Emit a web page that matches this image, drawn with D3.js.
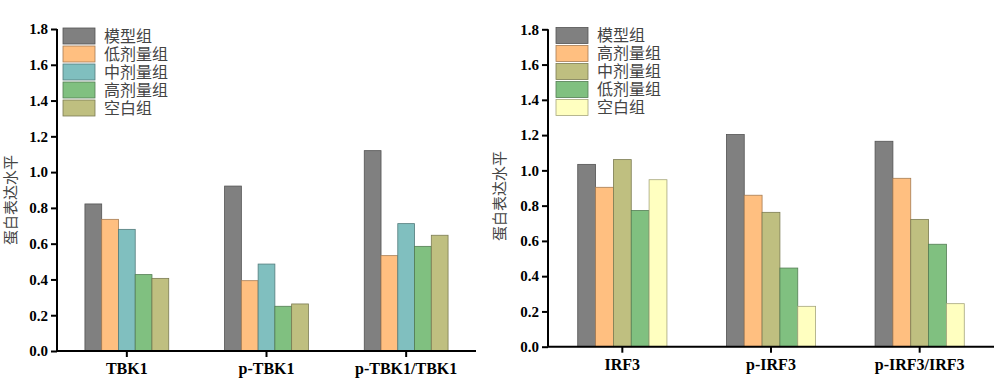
<!DOCTYPE html>
<html><head><meta charset="utf-8">
<script src="https://cdn.jsdelivr.net/npm/d3@7"></script>
<style>
html,body{margin:0;padding:0;background:#fff;}
svg{display:block;}
</style></head>
<body>
<svg id="chart" width="1004" height="380"></svg>
<script>
// ---- Data ----
const yTicks = [0.0, 0.2, 0.4, 0.6, 0.8, 1.0, 1.2, 1.4, 1.6, 1.8];
const yTitle = "蛋白表达水平";

const leftCategories = ["TBK1", "p-TBK1", "p-TBK1/TBK1"];
const leftSeries = ["模型组", "低剂量组", "中剂量组", "高剂量组", "空白组"];
const leftColors = ["#808080", "#FFBF80", "#80BFBF", "#80C080", "#BFBF80"];
const leftModel = [0.822, 0.922, 1.120];
const leftLow   = [0.736, 0.393, 0.533];
const leftMid   = [0.680, 0.486, 0.712];
const leftHigh  = [0.427, 0.250, 0.585];
const leftBlank = [0.406, 0.263, 0.647];

const rightCategories = ["IRF3", "p-IRF3", "p-IRF3/IRF3"];
const rightSeries = ["模型组", "高剂量组", "中剂量组", "低剂量组", "空白组"];
const rightColors = ["#808080", "#FFBF80", "#BFBF80", "#80C080", "#FFFFC0"];
const rightModel = [1.034, 1.203, 1.165];
const rightHigh  = [0.904, 0.859, 0.955];
const rightMid   = [1.061, 0.762, 0.722];
const rightLow   = [0.772, 0.446, 0.581];
const rightBlank = [0.947, 0.229, 0.244];

const charts = [
  {categories: leftCategories, series: leftSeries, colors: leftColors,
   values: [leftModel, leftLow, leftMid, leftHigh, leftBlank],
   x0: 57, x1: 476, yTop: 29, yBot: 351, titleX: 11, titleY: 200, legX: 63, legY: 28},
  {categories: rightCategories, series: rightSeries, colors: rightColors,
   values: [rightModel, rightHigh, rightMid, rightLow, rightBlank],
   x0: 548, x1: 994, yTop: 29.3, yBot: 346.7, titleX: 500, titleY: 196, legX: 556, legY: 27.5}
];

const svg = d3.select("#chart");
const serif = "'Liberation Serif','Times New Roman',serif";
const cjk = "'Noto Sans CJK SC','Noto Sans',sans-serif";

charts.forEach(c => {
  const g = svg.append("g");
  const y = d3.scaleLinear().domain([0, 1.8]).range([c.yBot, c.yTop]);
  const x = d3.scaleBand().domain(c.categories).range([c.x0, c.x1]).padding(0);
  const bw = x.bandwidth();
  const xs = d3.scaleBand().domain(c.series).range([bw * 0.2, bw * 0.8]).padding(0);

  // bars
  c.series.forEach((s, si) => {
    const col = d3.color(c.colors[si]);
    g.append("g").selectAll("rect")
      .data(c.categories.map((cat, ci) => ({cat, v: c.values[si][ci]})))
      .join("rect")
      .attr("x", d => x(d.cat) + xs(s))
      .attr("y", d => y(d.v))
      .attr("width", xs.bandwidth())
      .attr("height", d => c.yBot - y(d.v))
      .attr("fill", c.colors[si])
      .attr("stroke", col.darker(1.2))
      .attr("stroke-width", 0.8);
  });

  // y axis
  const ya = g.append("g").attr("transform", `translate(${c.x0},0)`)
    .call(d3.axisLeft(y).tickValues(yTicks).tickFormat(d3.format(".1f")).tickSize(6).tickPadding(3));
  ya.select(".domain").attr("stroke", "#000").attr("stroke-width", 2).attr("d", `M0,${c.yTop}V${c.yBot}`);
  ya.selectAll(".tick line").attr("stroke", "#000").attr("stroke-width", 2);
  ya.selectAll(".tick text").attr("font-family", serif).attr("font-weight", "bold")
    .attr("font-size", 15).attr("fill", "#000");

  // x axis
  const xa = g.append("g").attr("transform", `translate(0,${c.yBot})`)
    .call(d3.axisBottom(x).tickSize(6).tickPadding(6));
  xa.select(".domain").attr("stroke", "#000").attr("stroke-width", 2).attr("d", `M${c.x0},0H${c.x1}`);
  xa.selectAll(".tick line").attr("stroke", "#000").attr("stroke-width", 2);
  xa.selectAll(".tick text").attr("font-family", serif).attr("font-weight", "bold")
    .attr("font-size", 16).attr("fill", "#000");

  // y title
  g.append("text")
    .attr("transform", `translate(${c.titleX + 5},${c.titleY}) rotate(-90)`)
    .attr("text-anchor", "middle")
    .attr("font-family", cjk).attr("font-size", 15).attr("fill", "#444")
    .text(yTitle);

  // legend
  const leg = g.append("g").attr("transform", `translate(${c.legX},${c.legY})`);
  c.series.forEach((s, si) => {
    const row = leg.append("g").attr("transform", `translate(0,${si * 18})`);
    row.append("rect").attr("x", 0).attr("y", 0).attr("width", 32).attr("height", 16)
      .attr("fill", c.colors[si]).attr("stroke", d3.color(c.colors[si]).darker(1.2)).attr("stroke-width", 0.8);
    row.append("text").attr("x", 41).attr("y", 8).attr("dy", "0.36em")
      .attr("font-family", cjk).attr("font-size", 16).attr("fill", "#444").text(s);
  });
});
</script>
</body></html>
